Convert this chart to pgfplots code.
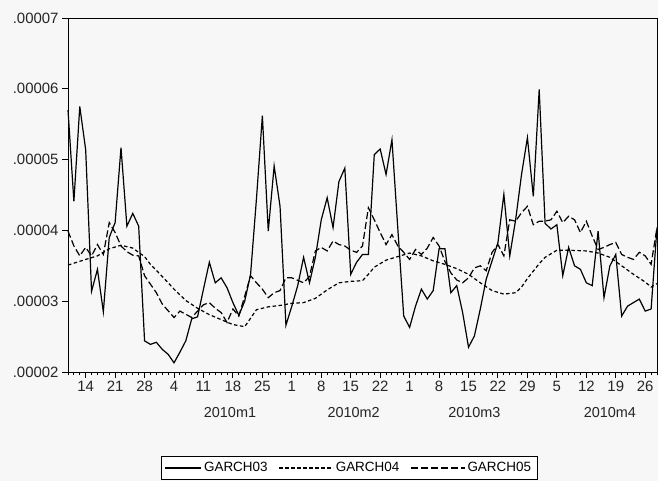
\documentclass[border=0pt]{standalone}
\usepackage{fontspec}
\setmainfont{Liberation Sans}
\usepackage{pgfplots}
\pgfplotsset{compat=1.18}
\pgfplotsset{
  shortleg/.style={legend image code/.code={\draw[##1] (0bp,0bp) -- (36bp,0bp);}},
  longleg/.style={legend image code/.code={\draw[##1] (0bp,0bp) -- (54bp,0bp);}},
}
\begin{document}
\begin{tikzpicture}
\fill[black!3] (-68bp,-109bp) rectangle (590bp,372bp);
\begin{axis}[
  at={(0,0)}, anchor=south west,
  scale only axis, width=589bp, height=354bp,
  xmin=0, xmax=100, ymin=2e-5, ymax=7e-5,
  clip=false,
  xtick={3,8,13,18,23,28,33,38,43,48,53,58,63,68,73,78,83,88,93,98},
  xticklabels={14,21,28,4,11,18,25,1,8,15,22,1,8,15,22,29,5,12,19,26},
  minor xtick={0,1,...,100},
  ytick={2e-5,3e-5,4e-5,5e-5,6e-5,7e-5},
  yticklabels={.00002,.00003,.00004,.00005,.00006,.00007},
  scaled y ticks=false,
  tick align=outside,
  xtick pos=left, ytick pos=left,
  major tick length=6pt, minor tick length=3.5pt,
  every tick/.append style={black, line width=1pt},
  axis line style={line width=0.9bp},
  tick label style={font=\fontsize{15}{17}\selectfont, text=black!85},
  legend columns=3,
  legend style={at={(0.477,-0.271)}, anchor=center, draw=black, line width=0.6bp,
     font=\fontsize{13.5}{15}\selectfont, inner xsep=4bp, inner ysep=4bp,
     /tikz/every even column/.append style={column sep=9bp}},
]
\addplot[black, line width=1.2bp, shortleg] coordinates {
(0,5.70e-5)(1,4.41e-5)(2,5.75e-5)(3,5.14e-5)(4,3.14e-5)(5,3.45e-5)(6,2.85e-5)(7,3.90e-5)(8,4.11e-5)(9,5.17e-5)
(10,4.06e-5)(11,4.24e-5)(12,4.06e-5)(13,2.44e-5)(14,2.39e-5)(15,2.42e-5)(16,2.32e-5)(17,2.25e-5)(18,2.13e-5)(19,2.28e-5)
(20,2.44e-5)(21,2.75e-5)(22,2.78e-5)(23,3.17e-5)(24,3.55e-5)(25,3.26e-5)(26,3.33e-5)(27,3.19e-5)(28,2.98e-5)(29,2.80e-5)
(30,3.00e-5)(31,3.38e-5)(32,4.45e-5)(33,5.62e-5)(34,3.99e-5)(35,4.91e-5)(36,4.34e-5)(37,2.66e-5)(38,2.93e-5)(39,3.22e-5)
(40,3.62e-5)(41,3.26e-5)(42,3.62e-5)(43,4.15e-5)(44,4.46e-5)(45,4.04e-5)(46,4.69e-5)(47,4.88e-5)(48,3.38e-5)(49,3.55e-5)
(50,3.66e-5)(51,3.66e-5)(52,5.07e-5)(53,5.15e-5)(54,4.79e-5)(55,5.28e-5)(56,4.02e-5)(57,2.79e-5)(58,2.63e-5)(59,2.93e-5)
(60,3.17e-5)(61,3.03e-5)(62,3.15e-5)(63,3.74e-5)(64,3.74e-5)(65,3.12e-5)(66,3.22e-5)(67,2.84e-5)(68,2.35e-5)(69,2.51e-5)
(70,2.89e-5)(71,3.31e-5)(72,3.57e-5)(73,3.83e-5)(74,4.51e-5)(75,3.64e-5)(76,4.15e-5)(77,4.79e-5)(78,5.31e-5)(79,4.48e-5)
(80,5.99e-5)(81,4.10e-5)(82,4.02e-5)(83,4.08e-5)(84,3.36e-5)(85,3.76e-5)(86,3.50e-5)(87,3.45e-5)(88,3.26e-5)(89,3.22e-5)
(90,3.99e-5)(91,3.05e-5)(92,3.50e-5)(93,3.66e-5)(94,2.79e-5)(95,2.93e-5)(96,2.98e-5)(97,3.03e-5)(98,2.86e-5)(99,2.89e-5)
(100,4.04e-5)
};
\addlegendentry{GARCH03}
\addplot[black, line width=1.2bp, dash pattern=on 3.5bp off 2.5bp, longleg] coordinates {
(0,3.51e-5)(3,3.59e-5)(5,3.64e-5)(7,3.74e-5)(9,3.79e-5)(11,3.75e-5)(13,3.63e-5)(14,3.52e-5)(16,3.35e-5)(18,3.17e-5)
(20,3.01e-5)(22,2.90e-5)(24,2.81e-5)(26,2.74e-5)(28,2.67e-5)(30,2.64e-5)(31,2.76e-5)(32,2.88e-5)(34,2.92e-5)(36,2.94e-5)
(38,2.97e-5)(40,2.98e-5)(42,3.04e-5)(44,3.16e-5)(46,3.26e-5)(48,3.28e-5)(50,3.29e-5)(51,3.38e-5)(52,3.48e-5)(54,3.58e-5)
(56,3.63e-5)(58,3.68e-5)(60,3.64e-5)(62,3.57e-5)(64,3.52e-5)(66,3.46e-5)(68,3.38e-5)(70,3.26e-5)(72,3.15e-5)(74,3.10e-5)
(76,3.12e-5)(77,3.20e-5)(78,3.32e-5)(80,3.53e-5)(81,3.62e-5)(83,3.72e-5)(85,3.72e-5)(88,3.71e-5)(90,3.68e-5)(92,3.62e-5)
(94,3.50e-5)(96,3.38e-5)(98,3.27e-5)(99,3.20e-5)(100,3.25e-5)
};
\addlegendentry{GARCH04}
\addplot[black, line width=1.2bp, dash pattern=on 7bp off 3bp, longleg] coordinates {
(0,3.99e-5)(1,3.78e-5)(2,3.64e-5)(3,3.76e-5)(4,3.64e-5)(5,3.80e-5)(6,3.66e-5)(7,4.11e-5)(8,3.97e-5)(9,3.78e-5)
(10,3.70e-5)(11,3.65e-5)(12,3.64e-5)(13,3.36e-5)(15,3.12e-5)(16,2.96e-5)(18,2.77e-5)(19,2.86e-5)(21,2.77e-5)(22,2.86e-5)
(23,2.95e-5)(24,2.98e-5)(25,2.90e-5)(26,2.84e-5)(27,2.70e-5)(28,2.89e-5)(29,2.79e-5)(30,3.07e-5)(31,3.36e-5)(32,3.26e-5)
(33,3.17e-5)(34,3.05e-5)(35,3.12e-5)(36,3.15e-5)(37,3.33e-5)(38,3.33e-5)(40,3.26e-5)(41,3.35e-5)(42,3.71e-5)(43,3.76e-5)
(44,3.71e-5)(45,3.85e-5)(46,3.80e-5)(47,3.78e-5)(48,3.72e-5)(49,3.69e-5)(50,3.78e-5)(51,4.32e-5)(52,4.15e-5)(53,3.97e-5)
(54,3.80e-5)(55,3.94e-5)(56,3.78e-5)(57,3.69e-5)(58,3.59e-5)(59,3.73e-5)(60,3.66e-5)(61,3.75e-5)(62,3.90e-5)(63,3.78e-5)
(64,3.56e-5)(65,3.40e-5)(66,3.30e-5)(67,3.26e-5)(68,3.33e-5)(69,3.47e-5)(70,3.50e-5)(71,3.43e-5)(72,3.69e-5)(73,3.80e-5)
(74,3.64e-5)(75,4.15e-5)(76,4.13e-5)(77,4.25e-5)(78,4.34e-5)(79,4.08e-5)(80,4.13e-5)(81,4.13e-5)(82,4.15e-5)(83,4.27e-5)
(84,4.11e-5)(85,4.20e-5)(86,4.15e-5)(87,3.97e-5)(88,4.13e-5)(89,3.92e-5)(90,3.73e-5)(91,3.76e-5)(92,3.80e-5)(93,3.83e-5)
(94,3.66e-5)(95,3.62e-5)(96,3.59e-5)(97,3.69e-5)(98,3.64e-5)(99,3.52e-5)(100,4.04e-5)
};
\addlegendentry{GARCH05}
\node[font=\fontsize{14.5}{17}\selectfont, text=black!85] at (axis cs:27.5,2e-5) [yshift=-41bp] {2010m1};
\node[font=\fontsize{14.5}{17}\selectfont, text=black!85] at (axis cs:48.5,2e-5) [yshift=-41bp] {2010m2};
\node[font=\fontsize{14.5}{17}\selectfont, text=black!85] at (axis cs:69,2e-5) [yshift=-41bp] {2010m3};
\node[font=\fontsize{14.5}{17}\selectfont, text=black!85] at (axis cs:92,2e-5) [yshift=-41bp] {2010m4};
\end{axis}
\end{tikzpicture}
\end{document}
